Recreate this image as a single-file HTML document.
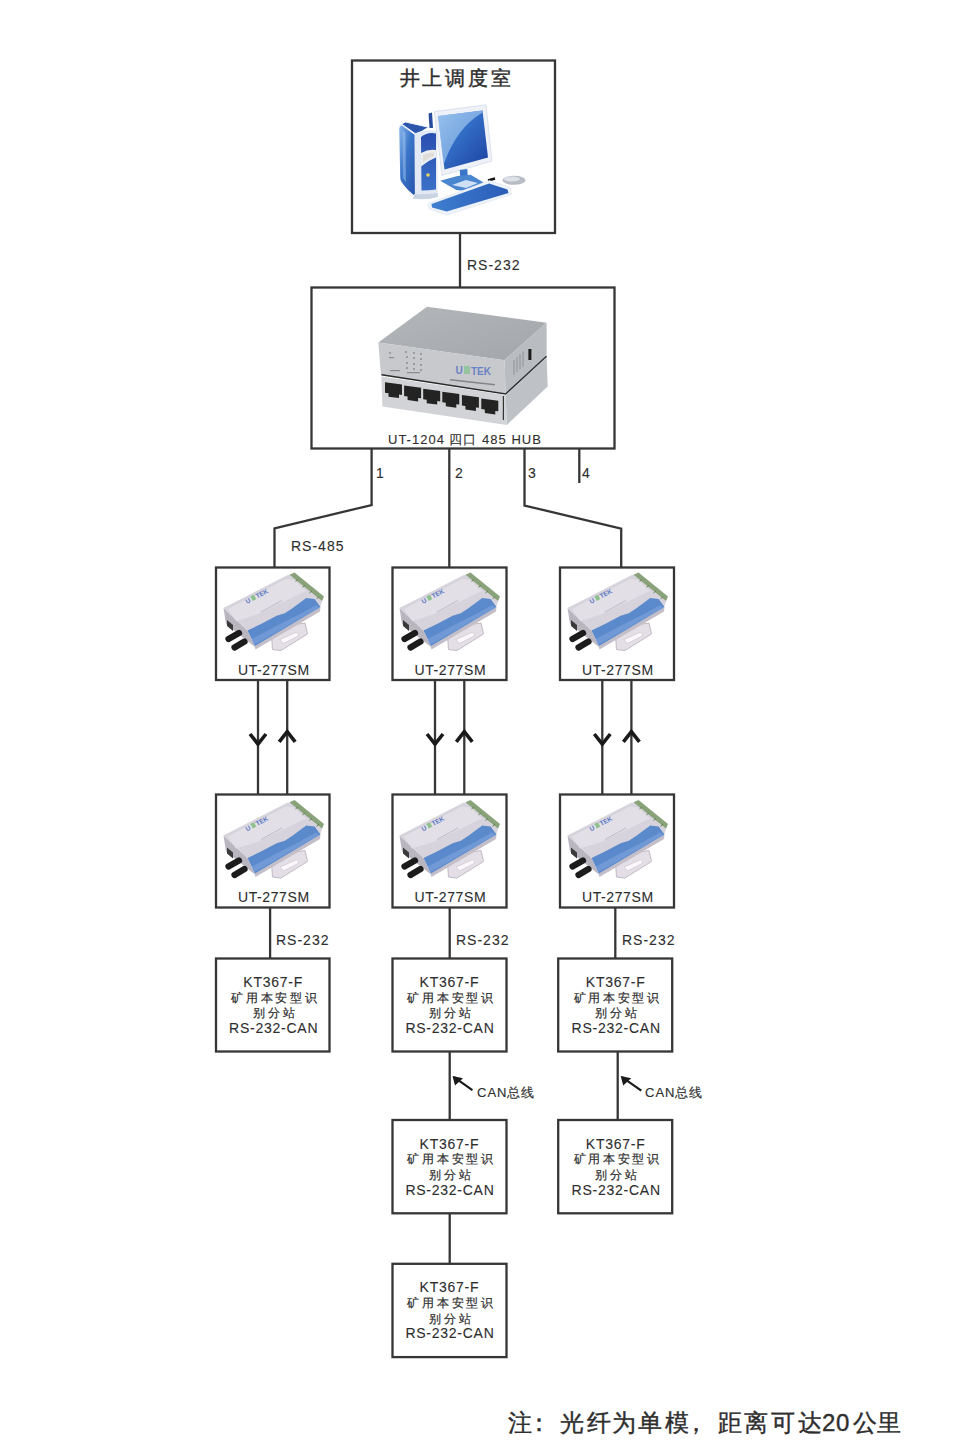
<!DOCTYPE html>
<html><head><meta charset="utf-8">
<style>
html,body{margin:0;padding:0;background:#fff;}
body{width:968px;height:1451px;overflow:hidden;position:relative;font-family:"Liberation Sans",sans-serif;}
svg{position:absolute;left:0;top:0;}
.t{font-family:"Liberation Sans",sans-serif;fill:#2e2e2e;stroke:#2e2e2e;stroke-width:0.1px;}
.b{stroke-width:0.4px;}
</style></head><body>
<svg width="968" height="1451" viewBox="0 0 968 1451">
<defs>
  <linearGradient id="scr" x1="0" y1="0" x2="1" y2="1">
    <stop offset="0" stop-color="#88b8ec"/><stop offset="0.4" stop-color="#3470c8"/><stop offset="1" stop-color="#1c40a0"/>
  </linearGradient>
  <linearGradient id="twr" x1="0" y1="0" x2="1" y2="1">
    <stop offset="0" stop-color="#8ab8ee"/><stop offset="0.45" stop-color="#3a74c8"/><stop offset="1" stop-color="#2452a8"/>
  </linearGradient>
  <linearGradient id="twf" x1="0" y1="0" x2="0" y2="1">
    <stop offset="0" stop-color="#2a4fb0"/><stop offset="1" stop-color="#3a70c8"/>
  </linearGradient>
  <linearGradient id="kbd" x1="0" y1="0" x2="1" y2="0">
    <stop offset="0" stop-color="#3f7fd0"/><stop offset="1" stop-color="#2a5cb8"/>
  </linearGradient>
  <linearGradient id="htop" x1="0" y1="0" x2="1" y2="1">
    <stop offset="0" stop-color="#b4b7ba"/><stop offset="1" stop-color="#a3a6aa"/>
  </linearGradient>
  <symbol id="dev" viewBox="0 0 115 93" overflow="visible">
    <!-- bracket -->
    <polygon points="55,61 89,56 91.5,67 65,83.5 56.5,82.5" fill="#e4dfe6" stroke="#bcb4c0" stroke-width="0.9"/>
    <polygon points="64,72.5 81,65 83,68.5 67.5,76.5" fill="#faf8fa" stroke="#c8c0cc" stroke-width="0.6"/>
    <!-- front-left face -->
    <polygon points="7.5,41 31.5,63.5 39,80 10,57" fill="#bab6c0"/>
    <polygon points="11,53 17,58 17,64 11,59" fill="#3a3a3a"/>
    <!-- bottom edge -->
    <polygon points="38,78 104.5,40 104,44.5 39.5,82.5" fill="#c4bec8"/>
    <!-- top face -->
    <polygon points="7.5,41 71.3,8.3 78.4,7.7 106.9,32.1 104.5,39.2 39,79 31.5,63.5" fill="#d6d3dc"/>
    <polygon points="12,42 70,12 78,13 90,24 40,48 20,54" fill="#e2dfe6"/>
    <!-- blue band -->
    <polygon points="31.5,63.5 45,57 60.6,48.7 68.8,46.3 76,41.6 90.3,30.9 98.6,32 104.5,40 39,79" fill="#5a8acc"/>
    <polygon points="36,72 62,58 84,47 100,38 103.5,40.5 38,78" fill="#7099d6"/>
    <!-- green terminal -->
    <polygon points="73.5,7.8 78.5,5.5 108,29.5 106,34" fill="#8aa27a"/>
    <g stroke="#5e7a4a" stroke-width="0.9">
      <line x1="82" y1="12.5" x2="79.5" y2="14.5"/><line x1="89" y1="18.3" x2="86.5" y2="20.3"/>
      <line x1="96" y1="24" x2="93.5" y2="26"/><line x1="103" y1="29.8" x2="100.5" y2="31.8"/>
    </g>
    <!-- logo -->
    <g transform="translate(31,37) rotate(-28)" fill="#5574c0" font-family="Liberation Sans" font-weight="bold" font-size="6.5">
      <text x="0" y="0">U</text><rect x="6.5" y="-5" width="4" height="5" fill="#8cc08c"/><text x="11.5" y="0">TEK</text>
    </g>
    <line x1="45" y1="45" x2="66" y2="33.5" stroke="#b0b4c4" stroke-width="0.8"/>
    <!-- ST connectors -->
    <g stroke="#1c1c1c" stroke-width="6.2" stroke-linecap="round">
      <line x1="12.5" y1="72" x2="23" y2="66"/>
      <line x1="18.5" y1="80.5" x2="28.5" y2="74.5"/>
    </g>
  </symbol>
</defs>
<!-- computer icon -->
<g>
  <!-- monitor back strip -->
  <polygon points="428.5,113.5 432,112.5 433,128 429.5,128" fill="#2a4c9c"/>
  <!-- tower side -->
  <path d="M399.2,127.5 Q399.5,124.5 402,124.8 L415.2,134.5 L415.6,196.5 Q407,190 401.5,182 Q400.2,180 400.2,177 Z" fill="url(#twr)"/>
  <path d="M402.5,131 L405.5,133 L406,182 L403,178 Z" fill="#a8ccf4" opacity="0.45"/>
  <path d="M399.2,127.5 Q399.5,124.5 402,124.8 L415.2,134.5 L415.6,196.5" fill="none" stroke="#eef4fc" stroke-width="1.4"/>
  <polygon points="401.5,124 405.5,122 428.5,127.2 421.5,131.5 415.5,133.8" fill="#2c56ac" stroke="#f0f4fa" stroke-width="1"/>
  <!-- tower front frame -->
  <path d="M415,133.5 Q426,128.5 437,131 L437.8,197 Q425,200 412.5,198.5 L415,195.5 Z" fill="#e2e9f4"/>
  <path d="M421,137 Q428,131.5 436,133.5 L436,189.5 Q428.5,190.5 421.5,190.5 Z" fill="url(#twf)"/>
  <path d="M421,153 Q429,148.5 436,150 L436,157.5 Q428,160.5 421,166.5 Z" fill="#eceef2"/>
  <path d="M423,155 Q429,152 434,152.5 L434,156 Q428,158.5 423,162 Z" fill="#d8d2c8" opacity="0.6"/>
  <circle cx="428" cy="175" r="1.8" fill="#e8d860"/>
  <path d="M413,198.5 Q425,200.5 437.8,197 L437.8,193 Q425,195 414,194 Z" fill="#c9d3e2"/>
  <!-- monitor -->
  <polygon points="434.3,111.5 486,104.8 492,161 442,175.5" fill="#eef2f8" stroke="#d4dce8" stroke-width="0.8"/>
  <polygon points="438,116 482.5,110.5 488,157.5 444.5,169.5" fill="url(#scr)"/>
  <path d="M443.5,165 Q456,128 482.6,112.5 L482.5,110.5 L438,116 Z" fill="#9cc4ee" opacity="0.7"/>
  <!-- stand -->
  <polygon points="459.7,170 467.3,169 467.8,176 460.2,176.5" fill="#3a76c8"/>
  <polygon points="440.2,180.8 457.5,175.9 470.6,174.8 483.6,182.4 466.2,191.1 456.4,190" fill="#4a86d0"/>
  <polygon points="452,185 466,180 478,183 466,188" fill="#cfe0f4"/>
  <!-- mouse -->
  <line x1="488" y1="180.5" x2="495" y2="178.5" stroke="#111" stroke-width="2.5"/>
  <ellipse cx="514" cy="180.3" rx="11.5" ry="4.5" fill="#b8bcc4"/>
  <ellipse cx="512" cy="179" rx="8" ry="2.5" fill="#dde0e6"/>
  <!-- keyboard -->
  <polygon points="428,203.5 489.5,180.5 510,187.5 511.5,194.5 446.5,215 429,209" fill="#eef3fa" stroke="#dde4ee" stroke-width="0.6"/>
  <polygon points="431.5,204 489,183.5 507.5,189.5 508.5,193 446.7,211.5 432,207.5" fill="url(#kbd)"/>
</g>
<!-- hub -->
<g>
  <!-- top face -->
  <polygon points="378.3,342.4 426.9,306.8 546.6,322.7 504.5,360.2" fill="url(#htop)"/>
  <!-- front upper -->
  <polygon points="378.3,342.4 504.5,360.2 505.7,393.5 381,375" fill="#c7c9cc"/>
  <!-- right upper -->
  <polygon points="504.5,360.2 546.6,322.7 546.6,355.7 505.7,393.2" fill="#b9bcc0"/>
  <!-- seam -->
  <polyline points="381.5,374.8 505.7,394 546.6,356.3" fill="none" stroke="#2a2a2a" stroke-width="1.6"/>
  <!-- lower front -->
  <polygon points="381.4,376.5 505.7,395 506.8,425 382.4,406.4" fill="#d2d3d6"/>
  <!-- lower right -->
  <polygon points="505.7,395 546.6,357 547.7,386.4 506.8,425" fill="#bec1c5"/>
  <line x1="503.4" y1="396" x2="503.4" y2="420" stroke="#333" stroke-width="1.2"/>
  <!-- ports -->
  <g fill="#232323">
    <polygon points="385.0,382.2 402.0,384.5 402.0,395.0 399.0,394.6 399.0,398.1 388.5,396.7 388.5,393.2 385.0,392.7"/>
    <polygon points="404.1,385.5 421.1,387.8 421.1,398.3 418.1,397.9 418.1,401.4 407.6,400.0 407.6,396.5 404.1,396.0"/>
    <polygon points="423.2,388.7 440.2,391.0 440.2,401.5 437.2,401.1 437.2,404.6 426.7,403.2 426.7,399.7 423.2,399.2"/>
    <polygon points="442.3,391.8 459.3,394.1 459.3,404.6 456.3,404.2 456.3,407.7 445.8,406.3 445.8,402.8 442.3,402.3"/>
    <polygon points="461.9,395.0 478.9,397.3 478.9,407.8 475.9,407.4 475.9,410.9 465.4,409.5 465.4,406.0 461.9,405.5"/>
    <polygon points="481.3,398.5 498.3,400.8 498.3,411.3 495.3,410.9 495.3,414.4 484.8,413.0 484.8,409.5 481.3,409.0"/>
  </g>
  <!-- vents -->
  <g stroke="#8d9095" stroke-width="1">
    <line x1="514" y1="360" x2="514" y2="375"/><line x1="517" y1="357" x2="517" y2="372"/>
    <line x1="520" y1="354" x2="520" y2="369"/><line x1="523" y1="351.5" x2="523" y2="366.5"/>
  </g>
  <rect x="528.4" y="349" width="3" height="11" fill="#1a1a1a"/>
  <!-- leds -->
  <g fill="#8a8c90">
    <circle cx="390" cy="353" r="0.9"/><rect x="389" y="357" width="5" height="1.2"/>
    <circle cx="406" cy="352" r="1"/><circle cx="414" cy="353" r="1"/><circle cx="421" cy="354" r="1"/>
    <circle cx="407" cy="357" r="1"/><circle cx="414" cy="358" r="1"/><circle cx="421" cy="359" r="1"/>
    <circle cx="407" cy="363" r="1"/><circle cx="414" cy="364" r="1"/><circle cx="421" cy="365" r="1"/>
    <circle cx="407" cy="368" r="1"/><circle cx="414" cy="369" r="1"/><circle cx="421" cy="370" r="1"/>
    <rect x="390" y="370" width="10" height="1.2"/><rect x="407" y="372" width="13" height="1.2"/>
  </g>
  <!-- logo -->
  <g font-family="Liberation Sans" font-weight="bold" font-size="10" fill="#6a82c6">
    <text x="455.5" y="374">U</text><rect x="464" y="366" width="6" height="8" fill="#96c4a0"/><text x="471" y="375">TEK</text>
  </g>
  <polygon points="450,379 495,384 495,385.5 450,380.5" fill="#555" opacity="0.6"/>
</g>
<!-- devices -->
<use href="#dev" x="216" y="567" width="115" height="93"/>
<use href="#dev" x="392" y="567" width="115" height="93"/>
<use href="#dev" x="560" y="567" width="115" height="93"/>
<use href="#dev" x="216" y="794.5" width="115" height="93"/>
<use href="#dev" x="392" y="794.5" width="115" height="93"/>
<use href="#dev" x="560" y="794.5" width="115" height="93"/>
<g fill="none" stroke="#363636" stroke-width="2.3">
  <!-- top box -->
  <rect x="352" y="60.5" width="203" height="172.5"/>
  <line x1="460" y1="233" x2="460" y2="287.5"/>
  <!-- hub -->
  <rect x="311.5" y="287.5" width="303" height="161"/>
  <polyline points="371.6,448.5 371.6,505 274.5,528.5 274.5,567"/>
  <line x1="449.3" y1="448.5" x2="449.3" y2="567"/>
  <polyline points="524.5,448.5 524.5,505.5 621.2,528.6 621.2,567"/>
  <line x1="579.3" y1="448.5" x2="579.3" y2="483"/>
  <!-- row1 boxes -->
  <rect x="216" y="567.5" width="113.5" height="112.5"/>
  <rect x="392.5" y="567.5" width="114" height="112.5"/>
  <rect x="560" y="567.5" width="114" height="112.5"/>
  <!-- fiber lines -->
  <line x1="258" y1="680" x2="258" y2="794.5"/>
  <line x1="287.2" y1="680" x2="287.2" y2="794.5"/>
  <line x1="435" y1="680" x2="435" y2="794.5"/>
  <line x1="464.3" y1="680" x2="464.3" y2="794.5"/>
  <line x1="602.3" y1="680" x2="602.3" y2="794.5"/>
  <line x1="631.4" y1="680" x2="631.4" y2="794.5"/>
  <!-- row2 boxes -->
  <rect x="216" y="794.5" width="113.5" height="113"/>
  <rect x="392.5" y="794.5" width="114" height="113"/>
  <rect x="560" y="794.5" width="114" height="113"/>
  <line x1="270.1" y1="907.5" x2="270.1" y2="958.5"/>
  <line x1="449.7" y1="907.5" x2="449.7" y2="958.5"/>
  <line x1="615.3" y1="907.5" x2="615.3" y2="958.5"/>
  <!-- KT row1 -->
  <rect x="216" y="958.5" width="113.5" height="93"/>
  <rect x="392.5" y="958.5" width="114" height="93"/>
  <rect x="558.2" y="958.5" width="114" height="93"/>
  <line x1="449.7" y1="1051.5" x2="449.7" y2="1120"/>
  <line x1="617.7" y1="1051.5" x2="617.7" y2="1120"/>
  <!-- KT row2 -->
  <rect x="392.5" y="1120" width="114" height="93.3"/>
  <rect x="558.2" y="1120" width="114" height="93.3"/>
  <line x1="449.7" y1="1213.3" x2="449.7" y2="1263.8"/>
  <!-- KT row3 -->
  <rect x="392.5" y="1263.8" width="114" height="93.3"/>
</g>
<!-- arrows -->
<g fill="none" stroke="#1a1a1a" stroke-width="3.6" stroke-linecap="butt" stroke-linejoin="miter">
  <polyline points="250,734 258,744 266,734"/>
  <polyline points="279.2,741.8 287.2,731.7 295.2,741.8"/>
  <polyline points="427,734 435,744 443,734"/>
  <polyline points="456.3,741.8 464.3,731.7 472.3,741.8"/>
  <polyline points="594.3,734 602.3,744 610.3,734"/>
  <polyline points="623.4,741.8 631.4,731.7 639.4,741.8"/>
</g>
<g fill="none" stroke="#1a1a1a" stroke-width="2.2">
  <line x1="454" y1="1077.2" x2="472.4" y2="1090.2"/>
  <line x1="622" y1="1077.2" x2="641.3" y2="1090.6"/>
</g>
<g fill="#1a1a1a">
  <polygon points="452.5,1076 463,1078.2 455,1085.5"/>
  <polygon points="620.7,1076 631.2,1078.2 623.2,1085.5"/>
</g>
<!-- text -->
<g class="t">
<text class="b" x="400.3 422.3 444.6 468.3 491" y="84.8" font-size="20">井上调度室</text>
<text x="467.00" y="270.00" font-size="14" letter-spacing="1.0">RS-232</text>
<text x="388.00" y="443.50" font-size="13" letter-spacing="1.0">UT-1204 四口 485 HUB</text>
<text x="376.00" y="478.00" font-size="14" letter-spacing="1.0">1</text>
<text x="455.00" y="478.00" font-size="14" letter-spacing="1.0">2</text>
<text x="528.00" y="478.00" font-size="14" letter-spacing="1.0">3</text>
<text x="582.00" y="478.00" font-size="14" letter-spacing="1.0">4</text>
<text x="291.00" y="550.50" font-size="14" letter-spacing="1.0">RS-485</text>
<text x="273.80" y="674.50" font-size="14" letter-spacing="0.6" text-anchor="middle">UT-277SM</text>
<text x="273.80" y="901.50" font-size="14" letter-spacing="0.6" text-anchor="middle">UT-277SM</text>
<text x="450.30" y="674.50" font-size="14" letter-spacing="0.6" text-anchor="middle">UT-277SM</text>
<text x="450.30" y="901.50" font-size="14" letter-spacing="0.6" text-anchor="middle">UT-277SM</text>
<text x="617.80" y="674.50" font-size="14" letter-spacing="0.6" text-anchor="middle">UT-277SM</text>
<text x="617.80" y="901.50" font-size="14" letter-spacing="0.6" text-anchor="middle">UT-277SM</text>
<text x="276.00" y="944.50" font-size="14" letter-spacing="1.0">RS-232</text>
<text x="456.00" y="944.50" font-size="14" letter-spacing="1.0">RS-232</text>
<text x="622.00" y="944.50" font-size="14" letter-spacing="1.0">RS-232</text>
<text x="477.00" y="1096.50" font-size="13" letter-spacing="1.0" style="stroke-width:0.15px">CAN总线</text>
<text x="645.00" y="1096.50" font-size="13" letter-spacing="1.0" style="stroke-width:0.15px">CAN总线</text>
<text x="273.18" y="987.00" font-size="14" letter-spacing="0.75" text-anchor="middle">KT367-F</text>
<text x="275.25" y="1001.50" font-size="12" letter-spacing="2.7" text-anchor="middle" style="stroke-width:0.2px">矿用本安型识</text>
<text x="275.20" y="1017.30" font-size="12" letter-spacing="3.0" text-anchor="middle" style="stroke-width:0.2px">别分站</text>
<text x="273.68" y="1033.00" font-size="14" letter-spacing="0.75" text-anchor="middle">RS-232-CAN</text>
<text x="449.48" y="987.00" font-size="14" letter-spacing="0.75" text-anchor="middle">KT367-F</text>
<text x="451.55" y="1001.50" font-size="12" letter-spacing="2.7" text-anchor="middle" style="stroke-width:0.2px">矿用本安型识</text>
<text x="451.50" y="1017.30" font-size="12" letter-spacing="3.0" text-anchor="middle" style="stroke-width:0.2px">别分站</text>
<text x="449.98" y="1033.00" font-size="14" letter-spacing="0.75" text-anchor="middle">RS-232-CAN</text>
<text x="615.67" y="987.00" font-size="14" letter-spacing="0.75" text-anchor="middle">KT367-F</text>
<text x="617.75" y="1001.50" font-size="12" letter-spacing="2.7" text-anchor="middle" style="stroke-width:0.2px">矿用本安型识</text>
<text x="617.70" y="1017.30" font-size="12" letter-spacing="3.0" text-anchor="middle" style="stroke-width:0.2px">别分站</text>
<text x="616.17" y="1033.00" font-size="14" letter-spacing="0.75" text-anchor="middle">RS-232-CAN</text>
<text x="449.48" y="1148.50" font-size="14" letter-spacing="0.75" text-anchor="middle">KT367-F</text>
<text x="451.55" y="1163.00" font-size="12" letter-spacing="2.7" text-anchor="middle" style="stroke-width:0.2px">矿用本安型识</text>
<text x="451.50" y="1178.80" font-size="12" letter-spacing="3.0" text-anchor="middle" style="stroke-width:0.2px">别分站</text>
<text x="449.98" y="1194.50" font-size="14" letter-spacing="0.75" text-anchor="middle">RS-232-CAN</text>
<text x="615.67" y="1148.50" font-size="14" letter-spacing="0.75" text-anchor="middle">KT367-F</text>
<text x="617.75" y="1163.00" font-size="12" letter-spacing="2.7" text-anchor="middle" style="stroke-width:0.2px">矿用本安型识</text>
<text x="617.70" y="1178.80" font-size="12" letter-spacing="3.0" text-anchor="middle" style="stroke-width:0.2px">别分站</text>
<text x="616.17" y="1194.50" font-size="14" letter-spacing="0.75" text-anchor="middle">RS-232-CAN</text>
<text x="449.48" y="1292.30" font-size="14" letter-spacing="0.75" text-anchor="middle">KT367-F</text>
<text x="451.55" y="1306.80" font-size="12" letter-spacing="2.7" text-anchor="middle" style="stroke-width:0.2px">矿用本安型识</text>
<text x="451.50" y="1322.60" font-size="12" letter-spacing="3.0" text-anchor="middle" style="stroke-width:0.2px">别分站</text>
<text x="449.98" y="1338.30" font-size="14" letter-spacing="0.75" text-anchor="middle">RS-232-CAN</text>
<text class="b" x="508.3 527 559.9 586.8 611.6 638.4 665.3 684.3 718.2 744.3 770.5 798 821.9 836.1 852.6 877.4" y="1431" font-size="24">注：光纤为单模，距离可达20公里</text>
</g>
</svg>
</body></html>
